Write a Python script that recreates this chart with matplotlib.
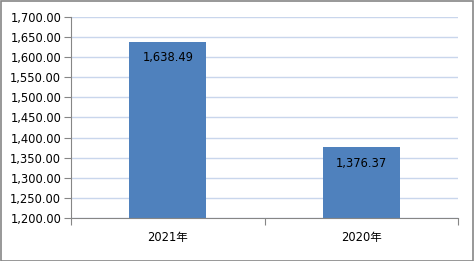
import matplotlib.pyplot as plt
from matplotlib.patches import Rectangle

categories = ['2021年', '2020年']
values = [1638.49, 1376.37]
yticks = [1200, 1250, 1300, 1350, 1400, 1450, 1500, 1550, 1600, 1650, 1700]

plt.rcParams['font.family'] = ['DejaVu Sans', 'Noto Sans CJK SC']

fig = plt.figure(figsize=(4.74, 2.61), dpi=100)
ax = fig.add_axes([71 / 474, 1 - 218 / 261, (458 - 71) / 474, (218 - 17) / 261])

x = range(len(categories))
bars = ax.bar(x, values, width=0.4, color='#4F81BD', zorder=3)
ax.set_ylim(1200, 1700)
ax.set_xlim(-0.5, 1.5)
ax.set_yticks(yticks)
ax.set_yticklabels(['{:,.2f}'.format(v) for v in yticks], fontsize=8.3)
ax.set_xticks([-0.5, 0.5, 1.5], minor=False)
ax.set_xticklabels([])
ax.set_xticks(list(x), minor=True)
ax.set_xticklabels(categories, minor=True, fontsize=8.3)
ax.tick_params(axis='x', which='minor', length=0, pad=9)
ax.tick_params(axis='x', which='major', length=5, color='#868686')
ax.tick_params(axis='y', length=5, color='#868686', pad=2)

ax.grid(axis='y', color='#C9D6EC', linewidth=1, zorder=0)
for s in ['top', 'right']:
    ax.spines[s].set_visible(False)
for s in ['left', 'bottom']:
    ax.spines[s].set_color('#868686')
    ax.spines[s].set_zorder(4)

for i, v in enumerate(values):
    ax.annotate('{:,.2f}'.format(v), (i, v), xytext=(0, -11.5), textcoords='offset points',
                ha='center', va='center', fontsize=8.3, color='black', zorder=5)

fig.patches.append(Rectangle((0.5 / 474, 0.5 / 261), 472.5 / 474, 259.5 / 261,
                             transform=fig.transFigure, fill=False,
                             edgecolor='#868686', linewidth=1.2))

fig.savefig('out.png', dpi=100)
